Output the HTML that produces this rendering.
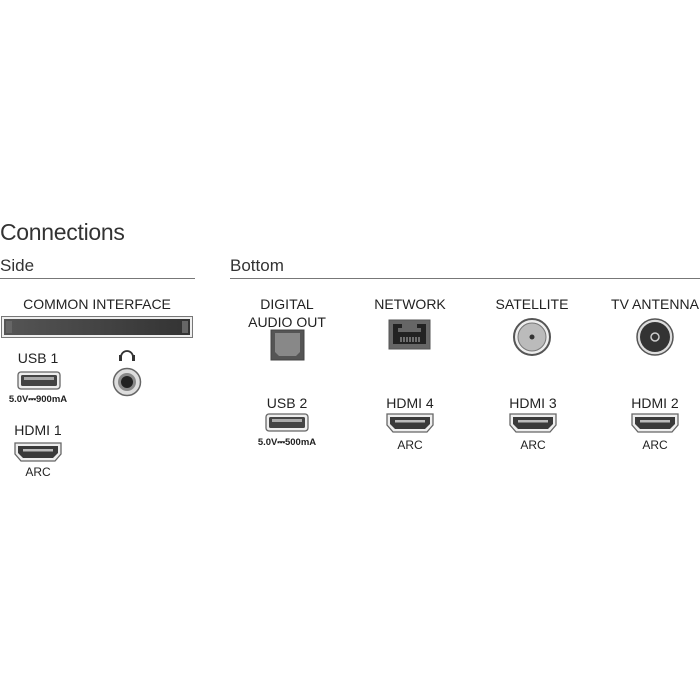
<!DOCTYPE html>
<html><head><meta charset="utf-8"><style>
body{margin:0;width:700px;height:700px;background:#fff;position:relative;overflow:hidden;font-family:"Liberation Sans",sans-serif;color:#222}
.t{position:absolute;white-space:nowrap;transform:translateX(-50%);font-size:14px;line-height:16px;text-align:center}
.s{font-size:9.5px;font-weight:bold;line-height:10px}
.a{font-size:12px}
</style></head><body>
<div style="position:absolute;left:0;top:219px;font-size:23px;color:#333;letter-spacing:-0.3px">Connections</div>
<div style="position:absolute;left:0;top:256px;font-size:17px;color:#333">Side</div>
<div style="position:absolute;left:230px;top:256px;font-size:17px;color:#333">Bottom</div>
<div style="position:absolute;left:0;top:278px;width:195px;height:1px;background:#777"></div>
<div style="position:absolute;left:230px;top:278px;width:470px;height:1px;background:#777"></div>

<div class="t" style="left:97px;top:296px">COMMON INTERFACE</div>
<div class="t" style="left:38px;top:350px">USB 1</div>
<div class="t s" style="left:38px;top:395px">5.0V⎓900mA</div>
<div class="t" style="left:38px;top:422px">HDMI 1</div>
<div class="t a" style="left:38px;top:464px">ARC</div>

<div class="t" style="left:287px;top:296px">DIGITAL</div>
<div class="t" style="left:287px;top:314px">AUDIO OUT</div>
<div class="t" style="left:410px;top:296px">NETWORK</div>
<div class="t" style="left:532px;top:296px">SATELLITE</div>
<div class="t" style="left:655px;top:296px">TV ANTENNA</div>
<div class="t" style="left:287px;top:395px">USB 2</div>
<div class="t s" style="left:287px;top:438px">5.0V⎓500mA</div>
<div class="t" style="left:410px;top:395px">HDMI 4</div>
<div class="t a" style="left:410px;top:437px">ARC</div>
<div class="t" style="left:533px;top:395px">HDMI 3</div>
<div class="t a" style="left:533px;top:437px">ARC</div>
<div class="t" style="left:655px;top:395px">HDMI 2</div>
<div class="t a" style="left:655px;top:437px">ARC</div>

<svg width="700" height="700" style="position:absolute;left:0;top:0">
<defs>
<linearGradient id="g" x1="0" x2="1"><stop offset="0" stop-color="#555"/><stop offset="1" stop-color="#333"/></linearGradient>
<g id="hdmi"><path d="M0,0 h46 v11 l-6,7 h-34 l-6,-7z" fill="#eee" stroke="#666" stroke-width="1.3"/><path d="M3,3 h40 v7 l-5,5 h-30 l-5,-5z" fill="#3a3a3a"/><rect x="8" y="6" width="30" height="2.5" fill="#bbb"/></g>
<g id="usb"><rect x="0" y="0" width="42" height="17" rx="3" fill="#eee" stroke="#666" stroke-width="1.3"/><rect x="3" y="3" width="36" height="11" rx="1.5" fill="#444"/><rect x="6" y="5" width="30" height="3" fill="#aaa"/></g>
</defs>
<rect x="1.5" y="316.5" width="191" height="21" fill="#eee" stroke="#777"/>
<rect x="4" y="319" width="186" height="16" fill="url(#g)"/>
<rect x="6" y="321" width="6" height="12" fill="#666"/><rect x="182" y="321" width="6" height="12" fill="#666"/>
<use href="#usb" x="18" y="372"/>
<use href="#hdmi" x="15" y="443"/>
<path d="M121,357 a6,6 0 0 1 12,0" fill="none" stroke="#333" stroke-width="1.8"/>
<rect x="119" y="355" width="3" height="6" fill="#333"/><rect x="132" y="355" width="3" height="6" fill="#333"/>
<circle cx="127" cy="382" r="13.5" fill="#ddd" stroke="#666" stroke-width="1.5"/>
<circle cx="127" cy="382" r="9" fill="#888"/><circle cx="127" cy="382" r="6" fill="#222"/>

<rect x="271" y="330" width="33" height="30" fill="#555" stroke="#444"/>
<path d="M275,333 h25 v19 l-4,4 h-17 l-4,-4z" fill="#888"/>
<rect x="389" y="320" width="41" height="29" fill="#666" stroke="#555"/>
<path d="M393,324 h33 v20 h-33z M393,324" fill="#222"/>
<path d="M402,324 h15 v4 h4 v4 h-23 v-4 h4z" fill="#666"/>
<g stroke="#bbb" stroke-width="1"><path d="M401,337v5M404,337v5M407,337v5M410,337v5M413,337v5M416,337v5M419,337v5"/></g>
<circle cx="532" cy="337" r="18" fill="#eee" stroke="#555" stroke-width="2"/>
<circle cx="532" cy="337" r="14" fill="#bbb" stroke="#777"/>
<circle cx="532" cy="337" r="2.5" fill="#333"/>
<circle cx="655" cy="337" r="18" fill="#ddd" stroke="#555" stroke-width="1.5"/>
<circle cx="655" cy="337" r="15" fill="#333"/>
<circle cx="655" cy="337" r="4" fill="none" stroke="#ccc" stroke-width="1.5"/>

<use href="#usb" x="266" y="414"/>
<use href="#hdmi" x="387" y="414"/>
<use href="#hdmi" x="510" y="414"/>
<use href="#hdmi" x="632" y="414"/>
</svg>
</body></html>
